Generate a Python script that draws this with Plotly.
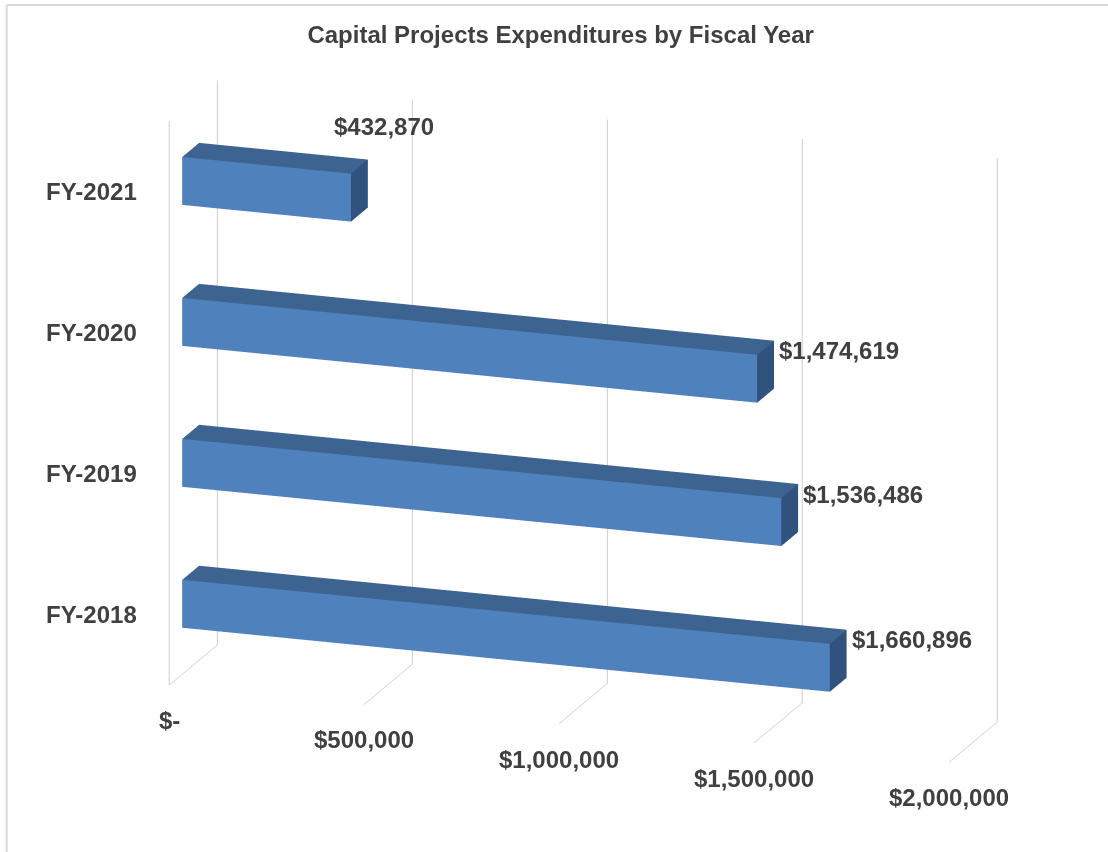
import plotly.graph_objects as go

# Capital project spend per fiscal year
years = ["FY-2018", "FY-2019", "FY-2020", "FY-2021"]
spend = [1660896, 1536486, 1474619, 432870]
value_labels = ["$1,660,896", "$1,536,486", "$1,474,619", "$432,870"]

# Value axis ticks
x_ticks = [0, 500000, 1000000, 1500000, 2000000]
x_tick_labels = ["$-", "$500,000", "$1,000,000", "$1,500,000", "$2,000,000"]

FRONT = "#4F81BD"
TOP = "#3D6491"
END = "#30527E"
TEXT = "#404040"
GRID = "#CDCDCD"
BORDER = "#D9D9D9"
FONT = "Liberation Sans"

BAR_HALF = 0.17       # half thickness of a bar along the category axis
DEPTH = (0.27, 0.62)  # bar extent along the depth axis
Z_MIN, Z_MAX = -0.5, len(years) - 0.5

# Build one mesh holding every bar as a cuboid
xs, ys, zs, I, J, K, fc = [], [], [], [], [], [], []
for i, v in enumerate(spend):
    x0, x1 = 0, v
    y0, y1 = DEPTH
    z0, z1 = i - BAR_HALF, i + BAR_HALF
    base = len(xs)
    corners = [(x0, y0, z0), (x1, y0, z0), (x1, y1, z0), (x0, y1, z0),
               (x0, y0, z1), (x1, y0, z1), (x1, y1, z1), (x0, y1, z1)]
    for cx, cy, cz in corners:
        xs.append(cx); ys.append(cy); zs.append(cz)
    faces = [((0, 1, 5), FRONT), ((0, 5, 4), FRONT),
             ((3, 2, 6), FRONT), ((3, 6, 7), FRONT),
             ((0, 1, 2), TOP), ((0, 2, 3), TOP),
             ((4, 5, 6), TOP), ((4, 6, 7), TOP),
             ((0, 3, 7), END), ((0, 7, 4), END),
             ((1, 2, 6), END), ((1, 6, 5), END)]
    for (a, b, c), col in faces:
        I.append(base + a); J.append(base + b); K.append(base + c); fc.append(col)

bars = go.Mesh3d(
    x=xs, y=ys, z=zs, i=I, j=J, k=K,
    facecolor=fc, flatshading=True,
    lighting=dict(ambient=1, diffuse=0, specular=0, fresnel=0, roughness=1),
    hoverinfo="skip", showscale=False,
)

fig = go.Figure([bars])


def bold(size):
    return dict(family=FONT, size=size, color=TEXT, weight="bold")


notes = []
# Value labels beside the end cap of each bar
for i, (v, t) in enumerate(zip(spend, value_labels)):
    if v < 1000000:
        notes.append(dict(x=v, y=DEPTH[1], z=i + BAR_HALF, text=t,
                          showarrow=False, font=bold(24),
                          xanchor="center", yanchor="bottom",
                          xshift=16, yshift=18))
    else:
        notes.append(dict(x=v, y=DEPTH[1], z=i + BAR_HALF, text=t,
                          showarrow=False, font=bold(24),
                          xanchor="left", yanchor="middle",
                          xshift=3, yshift=-10))
# Value axis labels at the front edge of the floor
for v, t in zip(x_ticks, x_tick_labels):
    notes.append(dict(x=v, y=0, z=Z_MIN, text=t, showarrow=False,
                      font=bold(24), xanchor="center", yanchor="top",
                      yshift=-20))
# Category labels along the front-left edge
for i, t in enumerate(years):
    notes.append(dict(x=0, y=0, z=i, text=t, showarrow=False,
                      font=bold(24), xanchor="right", yanchor="middle",
                      xshift=-30))

fig.update_layout(
    width=1108, height=852,
    margin=dict(l=0, r=0, t=0, b=0),
    paper_bgcolor="white",
    showlegend=False,
    title=dict(
        text="Capital Projects Expenditures by Fiscal Year",
        x=0.506, xanchor="center", y=0.959, yanchor="middle",
        font=dict(family=FONT, size=24, color=TEXT, weight="bold"),
    ),
    scene=dict(
        domain=dict(x=[0.0, 1.0], y=[0.0, 0.994]),
        xaxis=dict(
            range=[0, 2000000], tickvals=x_ticks, showticklabels=False,
            showgrid=True, gridcolor=GRID, gridwidth=2,
            zeroline=False, showline=False, ticks="", title=dict(text=""),
            showbackground=False, showspikes=False,
        ),
        yaxis=dict(
            range=[0, 1], showticklabels=False, showgrid=False, zeroline=False,
            showline=False, ticks="", title=dict(text=""),
            showbackground=False, showspikes=False,
        ),
        zaxis=dict(
            range=[Z_MIN, Z_MAX], tickvals=list(range(len(years))),
            showticklabels=False, showgrid=False, zeroline=False,
            showline=True, linecolor=GRID, linewidth=2, ticks="",
            title=dict(text=""), showbackground=False, showspikes=False,
        ),
        aspectmode="manual",
        aspectratio=dict(x=1.947, y=0.35, z=1.39),
        camera=dict(
            eye=dict(x=0.870, y=-2.743, z=0.847),
            up=dict(x=0, y=0, z=1),
            center=dict(x=-0.073, y=0, z=-0.024),
            projection=dict(type="orthographic"),
        ),
        annotations=notes,
        dragmode=False,
    ),
    shapes=[
        dict(type="line", xref="paper", yref="paper", x0=0.006, x1=1.0,
             y0=0.994, y1=0.994, line=dict(color=BORDER, width=2)),
        dict(type="line", xref="paper", yref="paper", x0=0.006, x1=0.006,
             y0=0.0, y1=0.994, line=dict(color=BORDER, width=2)),
    ],
)

fig.write_html("out.html")
